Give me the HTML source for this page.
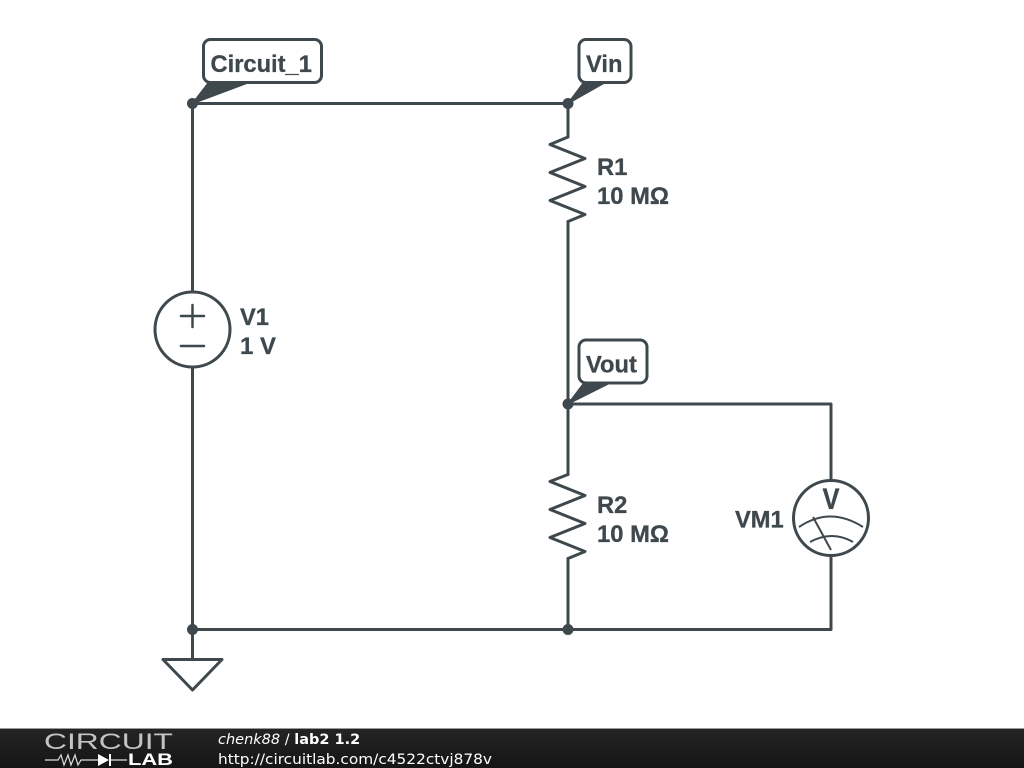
<!DOCTYPE html>
<html>
<head>
<meta charset="utf-8">
<style>
html,body{margin:0;padding:0;background:#fff;width:1024px;height:768px;overflow:hidden}
svg{display:block}
.l{font-family:"Liberation Sans",sans-serif;font-weight:bold;font-size:23.7px;fill:#3f484d;stroke:#3f484d;stroke-width:0.3}
.w{fill:none;stroke:#3f484d;stroke-width:3;stroke-linejoin:round;stroke-linecap:round}
.t{fill:none;stroke:#3f484d;stroke-width:2}
.f{font-family:"DejaVu Sans",sans-serif;font-size:14.5px;fill:#fff}
</style>
</head>
<body>
<svg width="1024" height="768" viewBox="0 0 1024 768" xmlns="http://www.w3.org/2000/svg">
<defs>
<linearGradient id="g" x1="0" y1="0" x2="0" y2="1">
<stop offset="0" stop-color="#242424"/><stop offset="1" stop-color="#151515"/>
</linearGradient>
</defs>
<rect width="1024" height="768" fill="#fff"/>

<!-- wires -->
<path class="w" d="M192.500 103.500H568M192.500 103.500V292M192.500 368V629.500V659"/>
<path class="w" d="M568 103.500V137M568 221.500V474.500"/>
<path class="w" d="M568 404H831V480M831 556V629.500H192.500M568 558.500V629.500"/>

<!-- R1 -->
<path class="w" d="M568 137L550 144.500L585 158.500L550 172.500L585 186.500L550 200.500L585 214.500L568 221.500"/>
<!-- R2 -->
<path class="w" d="M568 474.500L550 481.500L585 495.500L550 509.500L585 523.500L550 537.500L585 551.500L568 558.500"/>

<!-- V1 -->
<circle cx="192.500" cy="329.500" r="37.500" fill="#fff" stroke="#3f484d" stroke-width="3"/>
<path class="w" d="M181 316H204M192.500 305V327M181 346H204" style="stroke-width:2.500"/>

<!-- VM1 -->
<circle cx="831" cy="518" r="37.500" fill="#fff" stroke="#3f484d" stroke-width="3"/>
<path class="t" d="M799 527Q830 506 863 527M810 542Q832 530 853 542M813 517L831 550"/>
<text transform="translate(831 509) scale(1 1.15)" text-anchor="middle" class="l" style="font-size:25.500px">V</text>
<text x="735" y="527.500" class="l">VM1</text>

<!-- ground -->
<path d="M163 659.500H222L192.500 690Z" fill="#fff" stroke="#3f484d" stroke-width="3" stroke-linejoin="round"/>

<!-- dots -->
<circle cx="192.500" cy="103.500" r="5.500" fill="#3f484d"/>
<circle cx="568" cy="103.500" r="5.500" fill="#3f484d"/>
<circle cx="568" cy="404" r="5.500" fill="#3f484d"/>
<circle cx="192.500" cy="629.500" r="5.500" fill="#3f484d"/>
<circle cx="568" cy="629.500" r="5.500" fill="#3f484d"/>

<!-- tags -->
<path d="M192.500 103.500L209 82H250Z" fill="#3f484d" stroke="#3f484d" stroke-width="1.500" stroke-linejoin="round"/>
<rect x="203.500" y="39.500" width="118" height="43" rx="7" fill="#fff" stroke="#3f484d" stroke-width="3"/>
<text x="210.500" y="72" class="l">Circuit_1</text>

<path d="M568 103.500L584 82H606Z" fill="#3f484d" stroke="#3f484d" stroke-width="1.500" stroke-linejoin="round"/>
<rect x="579" y="39.500" width="52" height="43" rx="7" fill="#fff" stroke="#3f484d" stroke-width="3"/>
<text x="586" y="72" class="l">Vin</text>

<path d="M568 404L584 383H610Z" fill="#3f484d" stroke="#3f484d" stroke-width="1.500" stroke-linejoin="round"/>
<rect x="579" y="340" width="68" height="43" rx="7" fill="#fff" stroke="#3f484d" stroke-width="3"/>
<text x="586" y="372.500" class="l">Vout</text>

<!-- labels -->
<text x="597" y="175" class="l">R1</text>
<text x="597" y="204" class="l" textLength="72" lengthAdjust="spacingAndGlyphs">10 MΩ</text>
<text x="597" y="513" class="l">R2</text>
<text x="597" y="542" class="l" textLength="72" lengthAdjust="spacingAndGlyphs">10 MΩ</text>
<text x="240" y="325" class="l">V1</text>
<text x="240" y="354" class="l" textLength="36" lengthAdjust="spacingAndGlyphs">1 V</text>

<!-- footer -->
<rect x="0" y="729" width="1024" height="39" fill="url(#g)"/>
<rect x="0" y="728" width="1024" height="1" fill="#999"/>
<text x="44" y="749" textLength="129" lengthAdjust="spacingAndGlyphs" style="font-family:'Liberation Sans',sans-serif;font-size:22px;fill:#c4c4c4">CIRCUIT</text>
<path d="M45 760H58L61 755L64 765L68 755L71 765L75 755L78 765L81 760H98M110 760H127" fill="none" stroke="#ddd" stroke-width="1.200"/>
<path d="M98 754L109 760L98 766Z" fill="#fff"/>
<rect x="109" y="754" width="2" height="12" fill="#fff"/>
<text x="128" y="765" textLength="45" lengthAdjust="spacingAndGlyphs" style="font-family:'Liberation Sans',sans-serif;font-weight:bold;font-size:16.500px;fill:#fff">LAB</text>
<text x="218" y="744" class="f"><tspan font-style="italic">chenk88</tspan> / <tspan font-weight="bold">lab2 1.2</tspan></text>
<text x="218" y="764" class="f" textLength="274" lengthAdjust="spacingAndGlyphs">http://circuitlab.com/c4522ctvj878v</text>
</svg>
</body>
</html>
